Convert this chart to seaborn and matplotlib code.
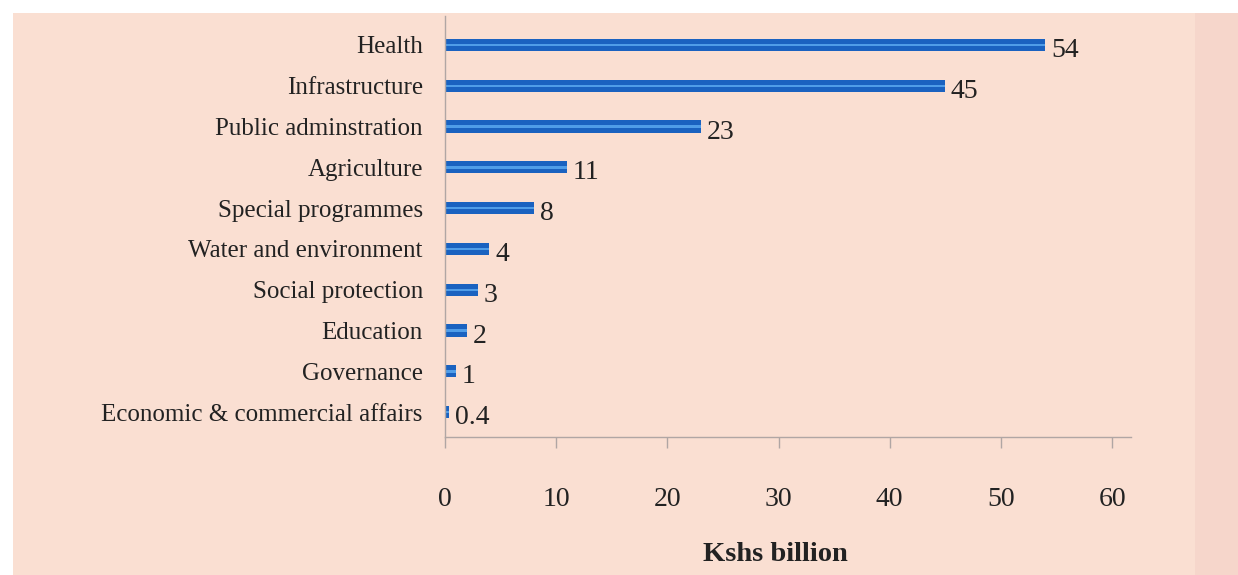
import matplotlib
matplotlib.use("Agg")
import matplotlib.pyplot as plt
import seaborn as sns
import pandas as pd
from matplotlib.patches import Rectangle

# Spending by sector, Kshs billion
sectors = [
    "Health",
    "Infrastructure",
    "Public adminstration",
    "Agriculture",
    "Special programmes",
    "Water and environment",
    "Social protection",
    "Education",
    "Governance",
    "Economic & commercial affairs",
]
amounts = [54, 45, 23, 11, 8, 4, 3, 2, 1, 0.4]
value_labels = ["54", "45", "23", "11", "8", "4", "3", "2", "1", "0.4"]
x_ticks = [0, 10, 20, 30, 40, 50, 60]

df = pd.DataFrame({"Sector": sectors, "Amount": amounts})

sns.set_theme(style="white")
plt.rcParams["font.family"] = ["Liberation Serif", "DejaVu Serif"]

fig = plt.figure(figsize=(12.38, 5.75), dpi=100, facecolor="white")
# scanned page background
fig.patches.append(Rectangle((13 / 1238, 0), 1 - 13 / 1238, 1 - 13 / 575,
                             transform=fig.transFigure, facecolor="#fadfd2",
                             edgecolor="none", zorder=-10))
fig.patches.append(Rectangle((1195 / 1238, 0), 43 / 1238, 1 - 13 / 575,
                             transform=fig.transFigure, facecolor="#f6d6cb",
                             edgecolor="none", zorder=-9))

ax = fig.add_axes([445 / 1238, 1 - 437 / 575, (1131 - 445) / 1238, (437 - 16) / 575])
ax.set_facecolor("none")

# dark bar body with a lighter stripe through the middle
sns.barplot(data=df, x="Amount", y="Sector", color="#1a62c0", width=0.3,
            saturation=1, linewidth=0, ax=ax)
sns.barplot(data=df, x="Amount", y="Sector", color="#4f9de8", width=0.06,
            saturation=1, linewidth=0, ax=ax)

for i, (v, lab) in enumerate(zip(amounts, value_labels)):
    ax.annotate(lab, (v, i), xytext=(4, -4), textcoords="offset points",
                ha="left", va="center", fontsize=20, color="#222222")

ax.set_xlim(0, 61.7)
ax.set_ylim(9.61, -0.71)
ax.set_xticks(x_ticks)
ax.set_xticklabels([str(t) for t in x_ticks])

for side in ["top", "right"]:
    ax.spines[side].set_visible(False)
for side in ["left", "bottom"]:
    ax.spines[side].set_color("#b0a6a4")
    ax.spines[side].set_linewidth(1.0)

ax.tick_params(axis="x", direction="out", length=8, width=1, color="#b0a6a4",
               pad=28, labelsize=20, labelcolor="#222222", bottom=True)
ax.tick_params(axis="y", length=0, pad=16, labelsize=18, labelcolor="#222222")
ax.set_ylabel("")
ax.set_xlabel("Kshs billion", fontsize=20.5, fontweight="bold", color="#222222")
ax.xaxis.set_label_coords((775 - 445) / 686, -0.25)

fig.savefig("out.png", dpi=100, facecolor=fig.get_facecolor())
